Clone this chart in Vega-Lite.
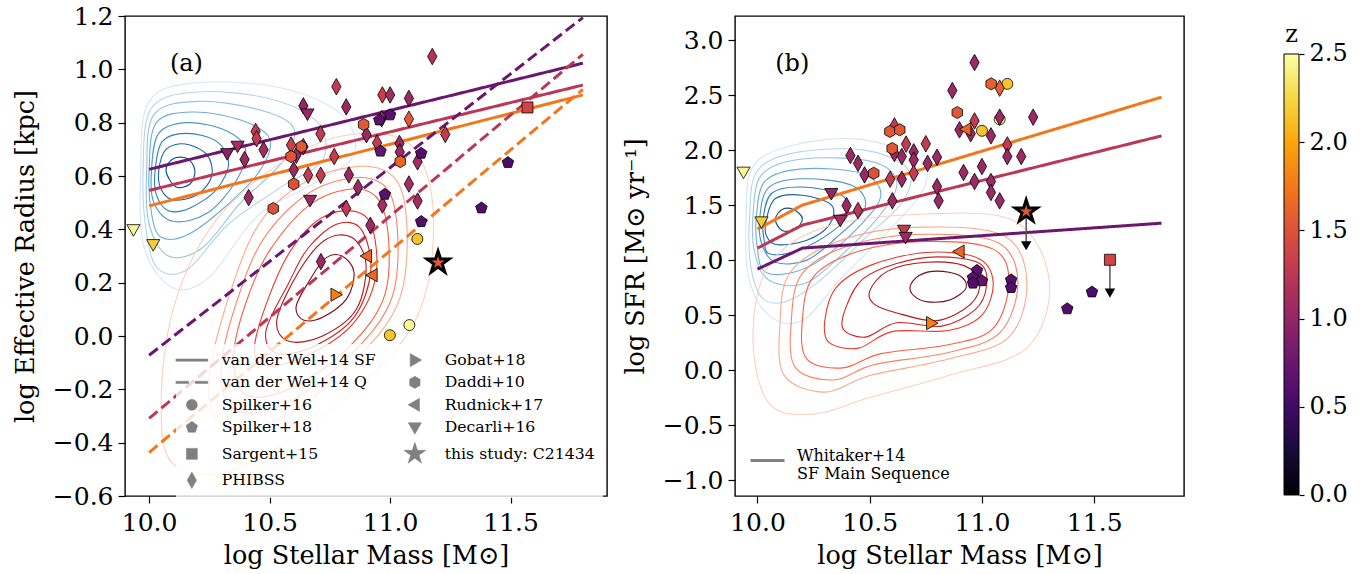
{
"$schema": "https://vega.github.io/schema/vega-lite/v6.json",
"padding": {"left": 12, "top": 3, "right": 0, "bottom": 0},
"spacing": 14,
"config": {
  "font": "DejaVu Serif",
  "view": {"stroke": "black", "strokeWidth": 1.4},
  "axis": {"domain": false, "grid": false, "tickColor": "black", "tickSize": 7, "tickWidth": 1.2, "labelFontSize": 25, "labelColor": "black", "titleFontSize": 25.5, "titleFontWeight": "normal", "titleColor": "black", "labelPadding": 5, "labelFlush": false, "labelOverlap": false},
  "axisX": {"labelPadding": 7, "titlePadding": 8},
  "legend": {"labelFont": "DejaVu Serif", "titleFont": "DejaVu Serif", "labelColor": "black", "titleColor": "black"}
},
"datasets": {
  "ca": [
    {"m":9.965,"v":0.62,"l":"B5","o":0},{"m":10.0,"v":0.88,"l":"B5","o":1},{"m":10.2,"v":0.95,"l":"B5","o":2},{"m":10.55,"v":0.93,"l":"B5","o":3},{"m":10.8,"v":0.83,"l":"B5","o":4},{"m":10.85,"v":0.68,"l":"B5","o":5},{"m":10.7,"v":0.58,"l":"B5","o":6},{"m":10.45,"v":0.45,"l":"B5","o":7},{"m":10.25,"v":0.22,"l":"B5","o":8},{"m":10.1,"v":0.18,"l":"B5","o":9},{"m":9.98,"v":0.33,"l":"B5","o":10},
    {"m":9.975,"v":0.62,"l":"B4b","o":0},{"m":10.01,"v":0.855,"l":"B4b","o":1},{"m":10.2,"v":0.915,"l":"B4b","o":2},{"m":10.5,"v":0.89,"l":"B4b","o":3},{"m":10.7,"v":0.8,"l":"B4b","o":4},{"m":10.72,"v":0.66,"l":"B4b","o":5},{"m":10.55,"v":0.56,"l":"B4b","o":6},{"m":10.33,"v":0.42,"l":"B4b","o":7},{"m":10.16,"v":0.25,"l":"B4b","o":8},{"m":10.04,"v":0.25,"l":"B4b","o":9},{"m":9.99,"v":0.38,"l":"B4b","o":10},
    {"m":9.99,"v":0.62,"l":"B4","o":0},{"m":10.02,"v":0.83,"l":"B4","o":1},{"m":10.2,"v":0.88,"l":"B4","o":2},{"m":10.45,"v":0.85,"l":"B4","o":3},{"m":10.6,"v":0.78,"l":"B4","o":4},{"m":10.55,"v":0.65,"l":"B4","o":5},{"m":10.38,"v":0.5,"l":"B4","o":6},{"m":10.22,"v":0.33,"l":"B4","o":7},{"m":10.08,"v":0.3,"l":"B4","o":8},{"m":10.0,"v":0.42,"l":"B4","o":9},
    {"m":10.0,"v":0.62,"l":"B3b","o":0},{"m":10.03,"v":0.8,"l":"B3b","o":1},{"m":10.18,"v":0.84,"l":"B3b","o":2},{"m":10.38,"v":0.81,"l":"B3b","o":3},{"m":10.5,"v":0.74,"l":"B3b","o":4},{"m":10.46,"v":0.62,"l":"B3b","o":5},{"m":10.31,"v":0.48,"l":"B3b","o":6},{"m":10.16,"v":0.38,"l":"B3b","o":7},{"m":10.05,"v":0.37,"l":"B3b","o":8},{"m":10.01,"v":0.46,"l":"B3b","o":9},
    {"m":10.01,"v":0.62,"l":"B3","o":0},{"m":10.04,"v":0.76,"l":"B3","o":1},{"m":10.16,"v":0.8,"l":"B3","o":2},{"m":10.32,"v":0.77,"l":"B3","o":3},{"m":10.4,"v":0.7,"l":"B3","o":4},{"m":10.36,"v":0.58,"l":"B3","o":5},{"m":10.24,"v":0.46,"l":"B3","o":6},{"m":10.1,"v":0.43,"l":"B3","o":7},{"m":10.02,"v":0.5,"l":"B3","o":8},
    {"m":10.025,"v":0.62,"l":"B2b","o":0},{"m":10.055,"v":0.73,"l":"B2b","o":1},{"m":10.155,"v":0.76,"l":"B2b","o":2},{"m":10.28,"v":0.73,"l":"B2b","o":3},{"m":10.33,"v":0.65,"l":"B2b","o":4},{"m":10.28,"v":0.55,"l":"B2b","o":5},{"m":10.17,"v":0.48,"l":"B2b","o":6},{"m":10.08,"v":0.47,"l":"B2b","o":7},{"m":10.03,"v":0.53,"l":"B2b","o":8},
    {"m":10.04,"v":0.62,"l":"B2","o":0},{"m":10.07,"v":0.7,"l":"B2","o":1},{"m":10.15,"v":0.72,"l":"B2","o":2},{"m":10.24,"v":0.68,"l":"B2","o":3},{"m":10.26,"v":0.6,"l":"B2","o":4},{"m":10.2,"v":0.53,"l":"B2","o":5},{"m":10.1,"v":0.51,"l":"B2","o":6},{"m":10.05,"v":0.55,"l":"B2","o":7},
    {"m":10.07,"v":0.62,"l":"B1","o":0},{"m":10.1,"v":0.665,"l":"B1","o":1},{"m":10.16,"v":0.665,"l":"B1","o":2},{"m":10.19,"v":0.62,"l":"B1","o":3},{"m":10.17,"v":0.57,"l":"B1","o":4},{"m":10.11,"v":0.56,"l":"B1","o":5},
    {"m":10.05,"v":-0.25,"l":"R6","o":0},{"m":10.1,"v":-0.48,"l":"R6","o":1},{"m":10.35,"v":-0.5,"l":"R6","o":2},{"m":10.75,"v":-0.28,"l":"R6","o":3},{"m":11.1,"v":0.05,"l":"R6","o":4},{"m":11.18,"v":0.45,"l":"R6","o":5},{"m":11.08,"v":0.72,"l":"R6","o":6},{"m":10.8,"v":0.75,"l":"R6","o":7},{"m":10.5,"v":0.62,"l":"R6","o":8},{"m":10.25,"v":0.4,"l":"R6","o":9},{"m":10.1,"v":0.1,"l":"R6","o":10},
    {"m":10.25,"v":-0.15,"l":"R5","o":0},{"m":10.3,"v":-0.33,"l":"R5","o":1},{"m":10.52,"v":-0.32,"l":"R5","o":2},{"m":10.82,"v":-0.12,"l":"R5","o":3},{"m":11.04,"v":0.14,"l":"R5","o":4},{"m":11.06,"v":0.5,"l":"R5","o":5},{"m":10.95,"v":0.63,"l":"R5","o":6},{"m":10.7,"v":0.6,"l":"R5","o":7},{"m":10.48,"v":0.45,"l":"R5","o":8},{"m":10.35,"v":0.2,"l":"R5","o":9},
    {"m":10.3,"v":-0.115,"l":"R4b","o":0},{"m":10.35,"v":-0.275,"l":"R4b","o":1},{"m":10.55,"v":-0.26,"l":"R4b","o":2},{"m":10.82,"v":-0.085,"l":"R4b","o":3},{"m":11.01,"v":0.15,"l":"R4b","o":4},{"m":11.02,"v":0.475,"l":"R4b","o":5},{"m":10.92,"v":0.59,"l":"R4b","o":6},{"m":10.69,"v":0.55,"l":"R4b","o":7},{"m":10.49,"v":0.385,"l":"R4b","o":8},{"m":10.375,"v":0.16,"l":"R4b","o":9},
    {"m":10.35,"v":-0.08,"l":"R4","o":0},{"m":10.4,"v":-0.22,"l":"R4","o":1},{"m":10.58,"v":-0.2,"l":"R4","o":2},{"m":10.82,"v":-0.05,"l":"R4","o":3},{"m":10.98,"v":0.16,"l":"R4","o":4},{"m":10.98,"v":0.45,"l":"R4","o":5},{"m":10.88,"v":0.55,"l":"R4","o":6},{"m":10.68,"v":0.5,"l":"R4","o":7},{"m":10.5,"v":0.32,"l":"R4","o":8},{"m":10.4,"v":0.12,"l":"R4","o":9},
    {"m":10.44,"v":-0.02,"l":"R3","o":0},{"m":10.48,"v":-0.11,"l":"R3","o":1},{"m":10.64,"v":-0.08,"l":"R3","o":2},{"m":10.84,"v":0.04,"l":"R3","o":3},{"m":10.94,"v":0.22,"l":"R3","o":4},{"m":10.92,"v":0.42,"l":"R3","o":5},{"m":10.82,"v":0.47,"l":"R3","o":6},{"m":10.68,"v":0.42,"l":"R3","o":7},{"m":10.55,"v":0.26,"l":"R3","o":8},
    {"m":10.485,"v":0.02,"l":"R2b","o":0},{"m":10.53,"v":-0.065,"l":"R2b","o":1},{"m":10.68,"v":-0.04,"l":"R2b","o":2},{"m":10.85,"v":0.07,"l":"R2b","o":3},{"m":10.92,"v":0.245,"l":"R2b","o":4},{"m":10.88,"v":0.4,"l":"R2b","o":5},{"m":10.78,"v":0.42,"l":"R2b","o":6},{"m":10.66,"v":0.33,"l":"R2b","o":7},{"m":10.58,"v":0.2,"l":"R2b","o":8},
    {"m":10.53,"v":0.06,"l":"R2","o":0},{"m":10.58,"v":-0.02,"l":"R2","o":1},{"m":10.72,"v":0.0,"l":"R2","o":2},{"m":10.86,"v":0.1,"l":"R2","o":3},{"m":10.9,"v":0.27,"l":"R2","o":4},{"m":10.84,"v":0.37,"l":"R2","o":5},{"m":10.73,"v":0.36,"l":"R2","o":6},{"m":10.62,"v":0.24,"l":"R2","o":7},
    {"m":10.61,"v":0.11,"l":"R1","o":0},{"m":10.64,"v":0.06,"l":"R1","o":1},{"m":10.72,"v":0.07,"l":"R1","o":2},{"m":10.82,"v":0.14,"l":"R1","o":3},{"m":10.85,"v":0.24,"l":"R1","o":4},{"m":10.8,"v":0.3,"l":"R1","o":5},{"m":10.73,"v":0.29,"l":"R1","o":6},{"m":10.66,"v":0.2,"l":"R1","o":7}
  ],
  "cb": [
    {"m":9.95,"v":1.4,"l":"B5","o":0},{"m":9.98,"v":1.85,"l":"B5","o":1},{"m":10.15,"v":2.04,"l":"B5","o":2},{"m":10.45,"v":2.1,"l":"B5","o":3},{"m":10.72,"v":1.92,"l":"B5","o":4},{"m":10.74,"v":1.65,"l":"B5","o":5},{"m":10.6,"v":1.3,"l":"B5","o":6},{"m":10.38,"v":0.85,"l":"B5","o":7},{"m":10.2,"v":0.45,"l":"B5","o":8},{"m":10.05,"v":0.5,"l":"B5","o":9},{"m":9.96,"v":0.85,"l":"B5","o":10},
    {"m":9.965,"v":1.4,"l":"B4b","o":0},{"m":10.0,"v":1.815,"l":"B4b","o":1},{"m":10.175,"v":1.98,"l":"B4b","o":2},{"m":10.475,"v":2.0,"l":"B4b","o":3},{"m":10.67,"v":1.83,"l":"B4b","o":4},{"m":10.65,"v":1.54,"l":"B4b","o":5},{"m":10.48,"v":1.2,"l":"B4b","o":6},{"m":10.27,"v":0.8,"l":"B4b","o":7},{"m":10.12,"v":0.62,"l":"B4b","o":8},{"m":10.02,"v":0.66,"l":"B4b","o":9},{"m":9.97,"v":0.95,"l":"B4b","o":10},
    {"m":9.98,"v":1.4,"l":"B4","o":0},{"m":10.02,"v":1.78,"l":"B4","o":1},{"m":10.2,"v":1.92,"l":"B4","o":2},{"m":10.5,"v":1.9,"l":"B4","o":3},{"m":10.62,"v":1.72,"l":"B4","o":4},{"m":10.55,"v":1.42,"l":"B4","o":5},{"m":10.35,"v":1.0,"l":"B4","o":6},{"m":10.2,"v":0.78,"l":"B4","o":7},{"m":10.05,"v":0.82,"l":"B4","o":8},{"m":9.99,"v":1.05,"l":"B4","o":9},
    {"m":9.995,"v":1.39,"l":"B3b","o":0},{"m":10.035,"v":1.72,"l":"B3b","o":1},{"m":10.2,"v":1.83,"l":"B3b","o":2},{"m":10.46,"v":1.79,"l":"B3b","o":3},{"m":10.55,"v":1.6,"l":"B3b","o":4},{"m":10.46,"v":1.32,"l":"B3b","o":5},{"m":10.28,"v":1.0,"l":"B3b","o":6},{"m":10.14,"v":0.88,"l":"B3b","o":7},{"m":10.03,"v":0.9,"l":"B3b","o":8},{"m":10.0,"v":1.1,"l":"B3b","o":9},
    {"m":10.01,"v":1.38,"l":"B3","o":0},{"m":10.05,"v":1.66,"l":"B3","o":1},{"m":10.2,"v":1.74,"l":"B3","o":2},{"m":10.42,"v":1.68,"l":"B3","o":3},{"m":10.48,"v":1.48,"l":"B3","o":4},{"m":10.36,"v":1.22,"l":"B3","o":5},{"m":10.22,"v":1.0,"l":"B3","o":6},{"m":10.08,"v":0.98,"l":"B3","o":7},{"m":10.02,"v":1.14,"l":"B3","o":8},
    {"m":10.025,"v":1.375,"l":"B2b","o":0},{"m":10.065,"v":1.61,"l":"B2b","o":1},{"m":10.2,"v":1.665,"l":"B2b","o":2},{"m":10.375,"v":1.59,"l":"B2b","o":3},{"m":10.4,"v":1.4,"l":"B2b","o":4},{"m":10.29,"v":1.2,"l":"B2b","o":5},{"m":10.15,"v":1.07,"l":"B2b","o":6},{"m":10.05,"v":1.06,"l":"B2b","o":7},{"m":10.03,"v":1.18,"l":"B2b","o":8},
    {"m":10.04,"v":1.37,"l":"B2","o":0},{"m":10.08,"v":1.56,"l":"B2","o":1},{"m":10.2,"v":1.59,"l":"B2","o":2},{"m":10.33,"v":1.5,"l":"B2","o":3},{"m":10.32,"v":1.32,"l":"B2","o":4},{"m":10.22,"v":1.18,"l":"B2","o":5},{"m":10.09,"v":1.14,"l":"B2","o":6},{"m":10.04,"v":1.22,"l":"B2","o":7},
    {"m":10.08,"v":1.37,"l":"B1","o":0},{"m":10.11,"v":1.46,"l":"B1","o":1},{"m":10.16,"v":1.46,"l":"B1","o":2},{"m":10.2,"v":1.38,"l":"B1","o":3},{"m":10.17,"v":1.28,"l":"B1","o":4},{"m":10.11,"v":1.27,"l":"B1","o":5},
    {"m":9.98,"v":0.3,"l":"R6","o":0},{"m":10.05,"v":0.95,"l":"R6","o":1},{"m":10.3,"v":1.3,"l":"R6","o":2},{"m":10.75,"v":1.42,"l":"R6","o":3},{"m":11.15,"v":1.35,"l":"R6","o":4},{"m":11.3,"v":0.8,"l":"R6","o":5},{"m":11.2,"v":0.2,"l":"R6","o":6},{"m":10.85,"v":-0.05,"l":"R6","o":7},{"m":10.5,"v":-0.25,"l":"R6","o":8},{"m":10.25,"v":-0.4,"l":"R6","o":9},{"m":10.05,"v":-0.3,"l":"R6","o":10},
    {"m":10.1,"v":0.4,"l":"R5","o":0},{"m":10.15,"v":0.9,"l":"R5","o":1},{"m":10.4,"v":1.2,"l":"R5","o":2},{"m":10.75,"v":1.3,"l":"R5","o":3},{"m":11.1,"v":1.22,"l":"R5","o":4},{"m":11.2,"v":0.8,"l":"R5","o":5},{"m":11.12,"v":0.3,"l":"R5","o":6},{"m":10.85,"v":0.1,"l":"R5","o":7},{"m":10.5,"v":-0.05,"l":"R5","o":8},{"m":10.3,"v":-0.2,"l":"R5","o":9},{"m":10.12,"v":-0.05,"l":"R5","o":10},
    {"m":10.15,"v":0.42,"l":"R4b","o":0},{"m":10.2,"v":0.88,"l":"R4b","o":1},{"m":10.42,"v":1.14,"l":"R4b","o":2},{"m":10.75,"v":1.235,"l":"R4b","o":3},{"m":11.07,"v":1.16,"l":"R4b","o":4},{"m":11.16,"v":0.8,"l":"R4b","o":5},{"m":11.08,"v":0.34,"l":"R4b","o":6},{"m":10.85,"v":0.16,"l":"R4b","o":7},{"m":10.52,"v":0.05,"l":"R4b","o":8},{"m":10.34,"v":-0.09,"l":"R4b","o":9},{"m":10.17,"v":0.02,"l":"R4b","o":10},
    {"m":10.2,"v":0.45,"l":"R4","o":0},{"m":10.25,"v":0.85,"l":"R4","o":1},{"m":10.45,"v":1.08,"l":"R4","o":2},{"m":10.75,"v":1.17,"l":"R4","o":3},{"m":11.05,"v":1.1,"l":"R4","o":4},{"m":11.12,"v":0.8,"l":"R4","o":5},{"m":11.05,"v":0.38,"l":"R4","o":6},{"m":10.85,"v":0.23,"l":"R4","o":7},{"m":10.55,"v":0.15,"l":"R4","o":8},{"m":10.38,"v":0.02,"l":"R4","o":9},{"m":10.22,"v":0.1,"l":"R4","o":10},
    {"m":10.3,"v":0.45,"l":"R3","o":0},{"m":10.35,"v":0.75,"l":"R3","o":1},{"m":10.5,"v":0.95,"l":"R3","o":2},{"m":10.75,"v":1.07,"l":"R3","o":3},{"m":10.98,"v":1.02,"l":"R3","o":4},{"m":11.05,"v":0.8,"l":"R3","o":5},{"m":11.0,"v":0.5,"l":"R3","o":6},{"m":10.85,"v":0.36,"l":"R3","o":7},{"m":10.6,"v":0.35,"l":"R3","o":8},{"m":10.45,"v":0.2,"l":"R3","o":9},{"m":10.32,"v":0.25,"l":"R3","o":10},
    {"m":10.4,"v":0.6,"l":"R2b","o":0},{"m":10.47,"v":0.83,"l":"R2b","o":1},{"m":10.62,"v":0.97,"l":"R2b","o":2},{"m":10.8,"v":1.03,"l":"R2b","o":3},{"m":10.99,"v":0.97,"l":"R2b","o":4},{"m":11.02,"v":0.76,"l":"R2b","o":5},{"m":10.97,"v":0.55,"l":"R2b","o":6},{"m":10.82,"v":0.4,"l":"R2b","o":7},{"m":10.62,"v":0.43,"l":"R2b","o":8},{"m":10.48,"v":0.3,"l":"R2b","o":9},{"m":10.38,"v":0.38,"l":"R2b","o":10},
    {"m":10.5,"v":0.72,"l":"R2","o":0},{"m":10.58,"v":0.9,"l":"R2","o":1},{"m":10.75,"v":0.98,"l":"R2","o":2},{"m":10.92,"v":0.95,"l":"R2","o":3},{"m":10.99,"v":0.8,"l":"R2","o":4},{"m":10.95,"v":0.6,"l":"R2","o":5},{"m":10.8,"v":0.45,"l":"R2","o":6},{"m":10.62,"v":0.52,"l":"R2","o":7},{"m":10.52,"v":0.6,"l":"R2","o":8},
    {"m":10.68,"v":0.76,"l":"R1","o":0},{"m":10.72,"v":0.86,"l":"R1","o":1},{"m":10.8,"v":0.9,"l":"R1","o":2},{"m":10.9,"v":0.86,"l":"R1","o":3},{"m":10.93,"v":0.75,"l":"R1","o":4},{"m":10.86,"v":0.64,"l":"R1","o":5},{"m":10.76,"v":0.62,"l":"R1","o":6},{"m":10.7,"v":0.67,"l":"R1","o":7}
  ],
  "la": [
    {"m":10.0,"v":0.625,"z":0.75,"k":"SF","g":"s1"},{"m":11.8,"v":1.023,"z":0.75,"k":"SF","g":"s1"},
    {"m":10.0,"v":0.546,"z":1.25,"k":"SF","g":"s2"},{"m":11.8,"v":0.941,"z":1.25,"k":"SF","g":"s2"},
    {"m":10.0,"v":0.488,"z":1.75,"k":"SF","g":"s3"},{"m":11.8,"v":0.904,"z":1.75,"k":"SF","g":"s3"},
    {"m":10.0,"v":-0.072,"z":0.75,"k":"Q","g":"q1"},{"m":11.8,"v":1.194,"z":0.75,"k":"Q","g":"q1"},
    {"m":10.0,"v":-0.309,"z":1.25,"k":"Q","g":"q2"},{"m":11.8,"v":1.056,"z":1.25,"k":"Q","g":"q2"},
    {"m":10.0,"v":-0.437,"z":1.75,"k":"Q","g":"q3"},{"m":11.8,"v":0.925,"z":1.75,"k":"Q","g":"q3"}
  ],
  "lb": [
    {"m":10.0,"v":1.282,"z":1.75,"g":"w3"},{"m":10.2,"v":1.5,"z":1.75,"g":"w3"},{"m":11.8,"v":2.482,"z":1.75,"g":"w3"},
    {"m":10.0,"v":1.109,"z":1.25,"g":"w2"},{"m":10.2,"v":1.318,"z":1.25,"g":"w2"},{"m":11.8,"v":2.13,"z":1.25,"g":"w2"},
    {"m":10.0,"v":0.918,"z":0.75,"g":"w1"},{"m":10.2,"v":1.109,"z":0.75,"g":"w1"},{"m":11.8,"v":1.336,"z":0.75,"g":"w1"}
  ],
  "pa": [
    {"m":11.113,"v":0.364,"z":2.15,"s":"Spilker+16"},{"m":10.999,"v":0.003,"z":2.15,"s":"Spilker+16"},{"m":11.08,"v":0.041,"z":2.45,"s":"Spilker+16"},
    {"m":11.175,"v":1.048,"z":1.2,"s":"PHIBSS"},{"m":10.777,"v":0.935,"z":1.3,"s":"PHIBSS"},{"m":10.968,"v":0.904,"z":1.35,"s":"PHIBSS"},{"m":11.0,"v":0.904,"z":1.1,"s":"PHIBSS"},{"m":11.078,"v":0.891,"z":1.05,"s":"PHIBSS"},{"m":10.64,"v":0.863,"z":1.0,"s":"PHIBSS"},{"m":10.818,"v":0.859,"z":1.05,"s":"PHIBSS"},{"m":10.965,"v":0.815,"z":1.0,"s":"PHIBSS"},{"m":11.078,"v":0.813,"z":1.55,"s":"PHIBSS"},{"m":10.442,"v":0.767,"z":1.3,"s":"PHIBSS"},{"m":10.446,"v":0.74,"z":1.3,"s":"PHIBSS"},{"m":10.711,"v":0.758,"z":1.3,"s":"PHIBSS"},{"m":10.902,"v":0.755,"z":1.05,"s":"PHIBSS"},{"m":11.229,"v":0.756,"z":1.3,"s":"PHIBSS"},{"m":10.475,"v":0.698,"z":1.1,"s":"PHIBSS"},{"m":10.396,"v":0.662,"z":1.05,"s":"PHIBSS"},{"m":10.589,"v":0.716,"z":1.35,"s":"PHIBSS"},{"m":10.64,"v":0.71,"z":1.1,"s":"PHIBSS"},{"m":10.611,"v":0.678,"z":1.05,"s":"PHIBSS"},{"m":10.946,"v":0.724,"z":1.3,"s":"PHIBSS"},{"m":11.039,"v":0.722,"z":1.05,"s":"PHIBSS"},{"m":11.04,"v":0.69,"z":1.05,"s":"PHIBSS"},{"m":10.768,"v":0.673,"z":1.3,"s":"PHIBSS"},{"m":11.114,"v":0.653,"z":1.1,"s":"PHIBSS"},{"m":10.6,"v":0.623,"z":1.05,"s":"PHIBSS"},{"m":10.66,"v":0.603,"z":1.3,"s":"PHIBSS"},{"m":10.712,"v":0.603,"z":1.3,"s":"PHIBSS"},{"m":10.829,"v":0.604,"z":1.05,"s":"PHIBSS"},{"m":10.867,"v":0.557,"z":1.05,"s":"PHIBSS"},{"m":11.078,"v":0.57,"z":1.1,"s":"PHIBSS"},{"m":10.413,"v":0.519,"z":1.05,"s":"PHIBSS"},{"m":10.818,"v":0.478,"z":1.3,"s":"PHIBSS"},{"m":10.968,"v":0.491,"z":1.1,"s":"PHIBSS"},{"m":11.114,"v":0.506,"z":1.1,"s":"PHIBSS"},{"m":10.918,"v":0.415,"z":1.05,"s":"PHIBSS"},{"m":10.713,"v":0.279,"z":1.05,"s":"PHIBSS"},
    {"m":10.89,"v":0.793,"z":1.55,"s":"Daddi+10"},{"m":10.632,"v":0.71,"z":1.55,"s":"Daddi+10"},{"m":10.589,"v":0.673,"z":1.55,"s":"Daddi+10"},{"m":11.042,"v":0.654,"z":1.65,"s":"Daddi+10"},{"m":10.6,"v":0.57,"z":1.5,"s":"Daddi+10"},{"m":10.515,"v":0.478,"z":1.5,"s":"Daddi+10"},
    {"m":11.0,"v":0.829,"z":0.65,"s":"Spilker+18"},{"m":10.955,"v":0.81,"z":0.65,"s":"Spilker+18"},{"m":10.96,"v":0.693,"z":0.7,"s":"Spilker+18"},{"m":11.129,"v":0.685,"z":0.6,"s":"Spilker+18"},{"m":11.489,"v":0.65,"z":0.55,"s":"Spilker+18"},{"m":10.978,"v":0.531,"z":0.65,"s":"Spilker+18"},{"m":11.129,"v":0.429,"z":0.6,"s":"Spilker+18"},{"m":11.379,"v":0.48,"z":0.6,"s":"Spilker+18"},
    {"m":10.657,"v":0.834,"z":1.05,"s":"Decarli+16"},{"m":10.367,"v":0.713,"z":1.1,"s":"Decarli+16"},{"m":10.324,"v":0.685,"z":0.95,"s":"Decarli+16"},{"m":10.668,"v":0.51,"z":1.05,"s":"Decarli+16"},{"m":9.935,"v":0.4,"z":2.45,"s":"Decarli+16"},{"m":10.017,"v":0.344,"z":2.2,"s":"Decarli+16"},
    {"m":10.904,"v":0.3,"z":1.65,"s":"Rudnick+17"},{"m":10.927,"v":0.228,"z":1.65,"s":"Rudnick+17"},
    {"m":10.774,"v":0.155,"z":1.8,"s":"Gobat+18"},
    {"m":11.57,"v":0.857,"z":1.4,"s":"Sargent+15"},
    {"m":11.199,"v":0.275,"z":1.55,"s":"this study: C21434"}
  ],
  "pb": [
    {"m":11.0,"v":2.176,"z":2.15,"s":"Spilker+16"},{"m":11.079,"v":2.28,"z":2.45,"s":"Spilker+16"},{"m":11.113,"v":2.603,"z":2.15,"s":"Spilker+16"},
    {"m":10.414,"v":1.951,"z":1.05,"s":"PHIBSS"},{"m":10.448,"v":1.88,"z":1.05,"s":"PHIBSS"},{"m":10.477,"v":1.775,"z":1.05,"s":"PHIBSS"},{"m":10.397,"v":1.496,"z":1.05,"s":"PHIBSS"},{"m":10.448,"v":1.451,"z":1.25,"s":"PHIBSS"},{"m":10.591,"v":1.736,"z":1.3,"s":"PHIBSS"},{"m":10.601,"v":1.539,"z":1.05,"s":"PHIBSS"},{"m":10.643,"v":1.736,"z":1.05,"s":"PHIBSS"},{"m":10.61,"v":2.22,"z":1.3,"s":"PHIBSS"},{"m":10.61,"v":1.97,"z":1.05,"s":"PHIBSS"},{"m":10.662,"v":2.055,"z":1.3,"s":"PHIBSS"},{"m":10.643,"v":1.942,"z":1.05,"s":"PHIBSS"},{"m":10.696,"v":1.985,"z":1.05,"s":"PHIBSS"},{"m":10.696,"v":1.91,"z":1.05,"s":"PHIBSS"},{"m":10.696,"v":1.79,"z":1.3,"s":"PHIBSS"},{"m":10.75,"v":2.058,"z":1.3,"s":"PHIBSS"},{"m":10.758,"v":1.88,"z":1.05,"s":"PHIBSS"},{"m":10.8,"v":1.936,"z":1.05,"s":"PHIBSS"},{"m":10.8,"v":1.669,"z":1.05,"s":"PHIBSS"},{"m":10.807,"v":1.539,"z":1.05,"s":"PHIBSS"},{"m":10.868,"v":2.542,"z":1.05,"s":"PHIBSS"},{"m":10.967,"v":2.797,"z":1.05,"s":"PHIBSS"},{"m":10.967,"v":2.266,"z":1.3,"s":"PHIBSS"},{"m":10.9,"v":2.185,"z":1.05,"s":"PHIBSS"},{"m":10.95,"v":2.15,"z":1.05,"s":"PHIBSS"},{"m":11.04,"v":2.13,"z":1.05,"s":"PHIBSS"},{"m":10.918,"v":1.797,"z":1.05,"s":"PHIBSS"},{"m":11.0,"v":1.851,"z":1.05,"s":"PHIBSS"},{"m":10.967,"v":1.715,"z":1.05,"s":"PHIBSS"},{"m":11.04,"v":1.715,"z":1.05,"s":"PHIBSS"},{"m":11.04,"v":1.615,"z":1.05,"s":"PHIBSS"},{"m":11.079,"v":1.539,"z":1.05,"s":"PHIBSS"},{"m":11.113,"v":2.048,"z":1.3,"s":"PHIBSS"},{"m":11.113,"v":1.942,"z":1.05,"s":"PHIBSS"},{"m":11.079,"v":2.3,"z":1.05,"s":"PHIBSS"},{"m":11.175,"v":1.942,"z":1.05,"s":"PHIBSS"},{"m":11.228,"v":2.3,"z":1.05,"s":"PHIBSS"},{"m":11.079,"v":2.564,"z":1.6,"s":"PHIBSS"},
    {"m":10.518,"v":1.79,"z":1.5,"s":"Daddi+10"},{"m":10.59,"v":2.17,"z":1.55,"s":"Daddi+10"},{"m":10.634,"v":2.185,"z":1.55,"s":"Daddi+10"},{"m":10.6,"v":2.015,"z":1.55,"s":"Daddi+10"},{"m":10.89,"v":2.342,"z":1.55,"s":"Daddi+10"},{"m":11.041,"v":2.603,"z":1.6,"s":"Daddi+10"},
    {"m":10.978,"v":0.906,"z":0.65,"s":"Spilker+18"},{"m":10.96,"v":0.84,"z":0.65,"s":"Spilker+18"},{"m":11.0,"v":0.812,"z":0.7,"s":"Spilker+18"},{"m":10.96,"v":0.79,"z":0.6,"s":"Spilker+18"},{"m":11.13,"v":0.82,"z":0.65,"s":"Spilker+18"},{"m":11.13,"v":0.75,"z":0.6,"s":"Spilker+18"},{"m":11.49,"v":0.71,"z":0.55,"s":"Spilker+18"},{"m":11.38,"v":0.557,"z":0.6,"s":"Spilker+18"},
    {"m":9.938,"v":1.803,"z":2.45,"s":"Decarli+16"},{"m":10.018,"v":1.351,"z":2.2,"s":"Decarli+16"},{"m":10.329,"v":1.609,"z":1.0,"s":"Decarli+16"},{"m":10.369,"v":1.366,"z":1.1,"s":"Decarli+16"},{"m":10.653,"v":1.275,"z":1.3,"s":"Decarli+16"},{"m":10.66,"v":1.21,"z":1.05,"s":"Decarli+16"},
    {"m":10.9,"v":1.078,"z":1.65,"s":"Rudnick+17"},{"m":10.93,"v":2.19,"z":1.65,"s":"Rudnick+17"},
    {"m":10.774,"v":0.427,"z":1.8,"s":"Gobat+18"},
    {"m":11.57,"v":1.003,"z":1.4,"s":"Sargent+15"},
    {"m":11.197,"v":1.442,"z":1.55,"s":"this study: C21434"}
  ],
  "ab": [
    {"m":11.197,"v":1.442,"v2":1.13},
    {"m":11.57,"v":1.003,"v2":0.7}
  ]
},
"resolve": {
  "scale": {"x":"independent","y":"independent","color":"independent","fill":"independent","shape":"independent","stroke":"independent","strokeDash":"independent"},
  "legend": {"fill":"independent","shape":"independent","strokeDash":"independent","color":"independent","stroke":"independent"}
},
"hconcat": [
  {
    "width": 482, "height": 480,
    "encoding": {
      "x": {"field":"m","type":"quantitative","scale":{"domain":[9.9,11.9],"nice":false,"zero":false},"axis":{"title":"log Stellar Mass [M⊙]","values":[10,10.5,11,11.5],"format":".1f"}},
      "y": {"field":"v","type":"quantitative","scale":{"domain":[-0.6,1.2],"nice":false,"zero":false},"axis":{"title":"log Effective Radius [kpc]","values":[-0.6,-0.4,-0.2,0,0.2,0.4,0.6,0.8,1.0,1.2],"format":".1f","titlePadding":14}}
    },
    "layer": [
      {
        "data": {"name":"ca"},
        "mark": {"type":"line","interpolate":"cardinal-closed","strokeWidth":1.1,"clip":true},
        "encoding": {
          "color": {"field":"l","type":"nominal","legend":null,"scale":{"domain":["B1","B2","B2b","B3","B3b","B4","B4b","B5","R1","R2","R2b","R3","R4","R4b","R5","R6"],"range":["#084d96","#1764ab","#2e7ebc","#4a98c9","#6aaed6","#94c4df","#b7d4ea","#d6e6f4","#7f0610","#b11218","#d21f20","#ec382b","#f85f43","#fb8464","#fca98c","#fdd0bc"]}},
          "order": {"field":"o","type":"quantitative"}
        }
      },
      {
        "data": {"name":"la"},
        "mark": {"type":"line","strokeWidth":3},
        "encoding": {
          "stroke": {"field":"z","type":"quantitative","legend":null,"scale":{"scheme":"inferno","domain":[0,2.5]}},
          "strokeDash": {"field":"k","type":"nominal","legend":null,"scale":{"domain":["SF","Q"],"range":[[1,0],[11,5]]}},
          "detail": {"field":"g","type":"nominal"}
        }
      },
      {
        "data": {"name":"pa"},
        "mark": {"type":"point","filled":true,"opacity":1,"size":121,"stroke":"black"},
        "encoding": {
          "fill": {"field":"z","type":"quantitative","legend":null,"scale":{"scheme":"inferno","domain":[0,2.5]}},
          "strokeWidth": {"condition":{"test":"datum.s === 'this study: C21434'","value":3},"value":0.8},
          "shape": {"field":"s","type":"nominal",
            "scale":{"domain":["van der Wel+14 SF","van der Wel+14 Q","Spilker+16","Spilker+18","Sargent+15","PHIBSS","Gobat+18","Daddi+10","Rudnick+17","Decarli+16","this study: C21434"],
              "range":["M-2.9,-0.2L2.9,-0.2L2.9,0.2L-2.9,0.2Z","M-2.9,-0.2L-0.6,-0.2L-0.6,0.2L-2.9,0.2ZM0.6,-0.2L2.9,-0.2L2.9,0.2L0.6,0.2Z","circle","M0,-1.1L1.046,-0.34L0.647,0.89L-0.647,0.89L-1.046,-0.34Z","square","M0,-1.5L0.85,0L0,1.5L-0.85,0Z","M1.25,0L-0.85,-1.2L-0.85,1.2Z","M0,-1.1L0.95,-0.55L0.95,0.55L0,1.1L-0.95,0.55L-0.95,-0.55Z","M-1.25,0L0.85,-1.2L0.85,1.2Z","M-1.2,-0.85L1.2,-0.85L0,1.25Z","M0,-2.1L0.471,-0.649L1.997,-0.649L0.763,0.248L1.234,1.699L0,0.802L-1.234,1.699L-0.763,0.248L-1.997,-0.649L-0.471,-0.649Z"]},
            "legend":{"orient":"none","legendX":51,"legendY":328,"title":null,"columns":2,"columnPadding":26,"rowPadding":5.5,"labelFontSize":15.7,"labelOffset":22,"symbolSize":121,"padding":8,"fillColor":"rgba(255,255,255,0.8)","symbolFillColor":"gray","symbolStrokeColor":"gray","symbolStrokeWidth":0.5,"symbolOpacity":1}
          }
        }
      },
      {
        "data": {"values":[{"m":10.155,"v":1.02,"t":"(a)"}]},
        "mark": {"type":"text","fontSize":24,"color":"black"},
        "encoding": {"text":{"field":"t"}}
      }
    ]
  },
  {
    "spacing": 98,
    "resolve": {
      "scale": {"x":"independent","y":"independent","color":"independent","fill":"independent","shape":"independent","stroke":"independent","strokeDash":"independent"},
      "legend": {"fill":"independent","shape":"independent","strokeDash":"independent","color":"independent","stroke":"independent"}
    },
    "hconcat": [
      {
        "width": 449, "height": 480,
        "encoding": {
          "x": {"field":"m","type":"quantitative","scale":{"domain":[9.9,11.9],"nice":false,"zero":false},"axis":{"title":"log Stellar Mass [M⊙]","values":[10,10.5,11,11.5],"format":".1f"}},
          "y": {"field":"v","type":"quantitative","scale":{"domain":[-1.145,3.22],"nice":false,"zero":false},"axis":{"title":"log SFR [M⊙ yr⁻¹]","values":[-1,-0.5,0,0.5,1,1.5,2,2.5,3],"format":".1f","titlePadding":14}}
        },
        "layer": [
          {
            "data": {"name":"cb"},
            "mark": {"type":"line","interpolate":"cardinal-closed","strokeWidth":1.1,"clip":true},
            "encoding": {
              "color": {"field":"l","type":"nominal","legend":null,"scale":{"domain":["B1","B2","B2b","B3","B3b","B4","B4b","B5","R1","R2","R2b","R3","R4","R4b","R5","R6"],"range":["#084d96","#1764ab","#2e7ebc","#4a98c9","#6aaed6","#94c4df","#b7d4ea","#d6e6f4","#7f0610","#b11218","#d21f20","#ec382b","#f85f43","#fb8464","#fca98c","#fdd0bc"]}},
              "order": {"field":"o","type":"quantitative"}
            }
          },
          {
            "data": {"name":"lb"},
            "mark": {"type":"line","strokeWidth":3},
            "encoding": {
              "stroke": {"field":"z","type":"quantitative","legend":null,"scale":{"scheme":"inferno","domain":[0,2.5]}},
              "strokeDash": {"datum":"Whitaker+14","type":"nominal","scale":{"range":[[1,0]]},
                "legend":{"orient":"none","legendX":14,"legendY":426,"title":null,"symbolType":"stroke","symbolSize":1156,"symbolStrokeColor":"gray","symbolStrokeWidth":3,"labelFontSize":16,"labelOffset":11,"labelBaseline":"alphabetic","padding":0,"labelExpr":"['Whitaker+14','SF Main Sequence']"}},
              "detail": {"field":"g","type":"nominal"}
            }
          },
          {
            "data": {"name":"ab"},
            "mark": {"type":"rule","color":"#555555","strokeWidth":1.5},
            "encoding": {"y2": {"field":"v2"}}
          },
          {
            "data": {"name":"pb"},
            "mark": {"type":"point","filled":true,"opacity":1,"size":121,"stroke":"black"},
            "encoding": {
              "fill": {"field":"z","type":"quantitative","legend":null,"scale":{"scheme":"inferno","domain":[0,2.5]}},
              "strokeWidth": {"condition":{"test":"datum.s === 'this study: C21434'","value":3},"value":0.8},
              "shape": {"field":"s","type":"nominal","legend":null,
                "scale":{"domain":["van der Wel+14 SF","van der Wel+14 Q","Spilker+16","Spilker+18","Sargent+15","PHIBSS","Gobat+18","Daddi+10","Rudnick+17","Decarli+16","this study: C21434"],
                  "range":["M-2.9,-0.2L2.9,-0.2L2.9,0.2L-2.9,0.2Z","M-2.9,-0.2L-0.6,-0.2L-0.6,0.2L-2.9,0.2ZM0.6,-0.2L2.9,-0.2L2.9,0.2L0.6,0.2Z","circle","M0,-1.1L1.046,-0.34L0.647,0.89L-0.647,0.89L-1.046,-0.34Z","square","M0,-1.5L0.85,0L0,1.5L-0.85,0Z","M1.25,0L-0.85,-1.2L-0.85,1.2Z","M0,-1.1L0.95,-0.55L0.95,0.55L0,1.1L-0.95,0.55L-0.95,-0.55Z","M-1.25,0L0.85,-1.2L0.85,1.2Z","M-1.2,-0.85L1.2,-0.85L0,1.25Z","M0,-2.1L0.471,-0.649L1.997,-0.649L0.763,0.248L1.234,1.699L0,0.802L-1.234,1.699L-0.763,0.248L-1.997,-0.649L-0.471,-0.649Z"]}}
            }
          },
          {
            "data": {"name":"ab"},
            "mark": {"type":"point","shape":"triangle-down","filled":true,"color":"black","opacity":1,"size":110},
            "encoding": {"y": {"field":"v2","type":"quantitative","scale":{"domain":[-1.145,3.22],"nice":false,"zero":false}}}
          },
          {
            "data": {"values":[{"m":10.155,"v":2.78,"t":"(b)"}]},
            "mark": {"type":"text","fontSize":24,"color":"black"},
            "encoding": {"text":{"field":"t"}}
          }
        ]
      },
      {
        "width": 15, "height": 480,
        "view": {"stroke": null},
        "data": {"values": [{"a":0,"b":2.5}]},
        "layer": [
          {
            "mark": {"type":"rect","stroke":"black","strokeWidth":1,
              "fill":{"gradient":"linear","x1":0,"y1":1,"x2":0,"y2":0,"stops":[{"offset":0,"color":"#000004"},{"offset":0.1,"color":"#160b39"},{"offset":0.2,"color":"#420a68"},{"offset":0.3,"color":"#6a176e"},{"offset":0.4,"color":"#932667"},{"offset":0.5,"color":"#bc3754"},{"offset":0.6,"color":"#dd513a"},{"offset":0.7,"color":"#f37819"},{"offset":0.8,"color":"#fca50a"},{"offset":0.9,"color":"#f6d746"},{"offset":1,"color":"#fcffa4"}]}},
            "encoding": {
              "x": {"datum":0,"type":"quantitative","scale":{"domain":[0,1],"nice":false,"zero":false},"axis":null},
              "x2": {"datum":1},
              "y": {"field":"a","type":"quantitative","scale":{"domain":[-0.0057,2.7154],"nice":false,"zero":false},"axis":{"orient":"right","title":null,"values":[0,0.5,1,1.5,2,2.5],"format":".1f","tickSize":5,"labelFontSize":24}},
              "y2": {"field":"b"}
            }
          },
          {
            "mark": {"type":"text","fontSize":24,"color":"black"},
            "encoding": {
              "x": {"datum":0.5,"type":"quantitative"},
              "y": {"datum":2.607,"type":"quantitative"},
              "text": {"value":"z"}
            }
          }
        ]
      }
    ]
  }
]
}
